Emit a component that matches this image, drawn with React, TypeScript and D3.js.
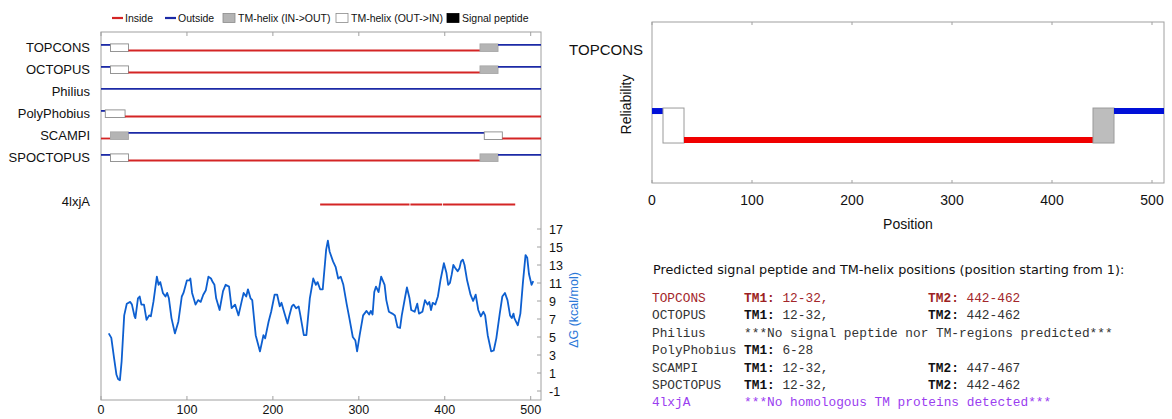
import React from "react";
import * as d3 from "d3";

const seqLength = 512;
const methodNames = ["TOPCONS", "OCTOPUS", "Philius", "PolyPhobius", "SCAMPI", "SPOCTOPUS"];

// segments: [start, end, kind]  i = inside, o = outside, M = TM in->out, W = TM out->in
const topconsSegs: [number, number, string][] = [[1, 11, "o"], [12, 32, "W"], [33, 441, "i"], [442, 462, "M"], [463, 512, "o"]];
const octopusSegs: [number, number, string][] = [[1, 11, "o"], [12, 32, "W"], [33, 441, "i"], [442, 462, "M"], [463, 512, "o"]];
const philiusSegs: [number, number, string][] = [[1, 512, "o"]];
const polyphobiusSegs: [number, number, string][] = [[1, 5, "o"], [6, 28, "W"], [29, 512, "i"]];
const scampiSegs: [number, number, string][] = [[1, 11, "i"], [12, 32, "M"], [33, 446, "o"], [447, 467, "W"], [468, 512, "i"]];
const spoctopusSegs: [number, number, string][] = [[1, 11, "o"], [12, 32, "W"], [33, 441, "i"], [442, 462, "M"], [463, 512, "o"]];
const homologSegs: [number, number, string][] = [[256, 359, "i"], [361, 397, "i"], [399, 482, "i"]];

const allSegs = [topconsSegs, octopusSegs, philiusSegs, polyphobiusSegs, scampiSegs, spoctopusSegs];

const xTicks = [0, 100, 200, 300, 400, 500];
const dgTicks = [17, 15, 13, 11, 9, 7, 5, 3, 1, -1];

const dgPos = [9, 12, 15, 18, 20, 22, 24, 27, 30, 34, 36, 39, 40, 43, 45, 47, 50, 53, 56, 58, 61, 65, 67, 69, 72, 75, 77, 79, 82, 86, 90, 94, 96, 100, 103, 104, 106, 110, 113, 116, 119, 122, 125, 128, 130, 132, 134, 138, 142, 145, 149, 152, 156, 160, 164, 166, 169, 171, 174, 176, 180, 185, 189, 191, 195, 198, 202, 205, 208, 210, 213, 217, 219, 222, 224, 227, 230, 232, 236, 239, 243, 247, 250, 252, 255, 258, 262, 264, 266, 270, 273, 276, 279, 282, 286, 289, 293, 296, 298, 301, 305, 309, 312, 314, 316, 318, 320, 323, 326, 330, 332, 335, 339, 342, 345, 348, 350, 354, 356, 359, 361, 365, 368, 370, 374, 377, 380, 382, 384, 386, 389, 392, 395, 399, 402, 404, 406, 408, 410, 412, 415, 417, 419, 421, 423, 426, 430, 433, 436, 439, 442, 445, 447, 450, 454, 457, 460, 464, 467, 470, 473, 476, 478, 480, 481, 485, 488, 491, 494, 496, 498, 501, 503];
const dgVal = [5.4, 4.9, 2.8, 0.8, 0.3, 0.2, 2.3, 7.4, 8.7, 8.9, 8.6, 7.3, 7.1, 9.3, 9.5, 8.6, 8.6, 6.9, 7.4, 7.3, 8.9, 11.7, 10.8, 11.1, 9.9, 9.5, 9.9, 9.3, 7.1, 5.4, 6.7, 9.5, 9.9, 11.3, 11.3, 11.5, 9.9, 8.6, 9.1, 8.9, 9.7, 10.2, 11.7, 11.5, 11.1, 10.8, 9.3, 8.0, 10.1, 10.8, 10.6, 8.2, 8.6, 7.4, 9.1, 9.9, 9.5, 10.3, 9.3, 9.1, 5.2, 3.4, 5.2, 4.85, 6.7, 7.8, 9.7, 9.7, 8.4, 8.8, 7.8, 6.5, 7.3, 8.4, 8.6, 8.2, 8.4, 7.4, 5.2, 5.2, 9.3, 11.5, 10.8, 11.1, 10.3, 10.3, 14.7, 15.7, 14.5, 13.4, 12.8, 11.5, 11.7, 10.8, 8.6, 7.1, 5.0, 4.6, 3.4, 5.2, 7.4, 7.9, 7.5, 7.9, 7.5, 10.0, 10.6, 10.0, 11.7, 10.8, 9.1, 7.8, 7.6, 7.4, 6.1, 6.0, 7.4, 9.5, 10.5, 9.3, 8.0, 7.8, 8.7, 7.6, 7.8, 9.1, 8.6, 8.9, 8.0, 8.8, 8.6, 9.5, 11.3, 13.2, 12.1, 10.8, 11.0, 11.9, 13.0, 12.7, 12.3, 12.6, 13.4, 13.6, 13.0, 11.3, 9.7, 9.0, 9.7, 8.0, 7.3, 7.8, 7.4, 5.2, 3.4, 3.5, 4.85, 7.6, 9.5, 9.9, 9.1, 7.4, 7.1, 7.6, 7.1, 6.3, 7.6, 11.1, 14.1, 13.8, 12.0, 10.8, 11.2];

const legendItems = [
  { label: "Inside", kind: "i" },
  { label: "Outside", kind: "o" },
  { label: "TM-helix (IN->OUT)", kind: "M" },
  { label: "TM-helix (OUT->IN)", kind: "W" },
  { label: "Signal peptide", kind: "S" },
];

const tableNames = ["TOPCONS", "OCTOPUS", "Philius", "PolyPhobius", "SCAMPI", "SPOCTOPUS", "4lxjA"];
const tableTM1 = ["12-32,", "12-32,", "", "6-28", "12-32,", "12-32,", ""];
const tableTM2 = ["442-462", "442-462", "", "", "447-467", "442-462", ""];
const tableNotes = ["", "", "***No signal peptide nor TM-regions predicted***", "", "", "", "***No homologous TM proteins detected***"];

const RED = "#d42525";
const BLUE = "#1c2aa6";
const FRAME = "#a0a0a0";
const SANS = "'Liberation Sans', Arial, sans-serif";
const MONO = "'Liberation Mono', 'Courier New', monospace";

function TrackRow({ segs, cy, x }: { segs: [number, number, string][]; cy: number; x: d3.ScaleLinear<number, number> }) {
  return (
    <g>
      {segs.map(([s, e, k], i) => {
        const x0 = x(s - 1);
        const x1 = x(e);
        if (k === "i" || k === "o") {
          const y = k === "i" ? cy + 2.8 : cy - 2.8;
          return <line key={i} x1={x0} x2={x1} y1={y} y2={y} stroke={k === "i" ? RED : BLUE} strokeWidth={1.8} />;
        }
        return (
          <rect key={i} x={x0} y={cy - 3.8} width={x1 - x0} height={7.6}
            fill={k === "M" ? "#b4b4b4" : "#fff"} stroke={k === "M" ? "#a8a8a8" : "#8a8a8a"} strokeWidth={0.9} />
        );
      })}
    </g>
  );
}

export default function App() {
  // left panel
  const L = { left: 101, right: 541, top: 32, bottom: 400 };
  const x = d3.scaleLinear().domain([0, seqLength]).range([L.left, L.right]);
  const yDG = d3.scaleLinear().domain([-1, 17]).range([391, 229]);
  const rowY = (i: number) => 47.7 + i * 22;

  const line = d3.line<number>().x((d, i) => x(dgPos[i])).y((d) => yDG(d));

  // right panel
  const R = { left: 652, right: 1164, top: 22, bottom: 183 };
  const xr = d3.scaleLinear().domain([0, seqLength]).range([R.left, R.right]);
  const yRel = d3.scaleLinear().domain([0, 1]).range([R.bottom, R.top]);
  const outLevel = 0.447;
  const inLevel = 0.267;
  const tmTop = yRel(outLevel) - 3;
  const tmBot = yRel(inLevel) + 3;

  const legendX = [112, 165, 223, 336, 447];

  const tableX = 652;
  const charW = 7.67;
  const tableY0 = 298;
  const tableDy = 17.4;

  return (
    <svg width={1172} height={419} style={{ position: "absolute", left: 0, top: 0, background: "#fff" }}>
      {/* legend */}
      <g fontFamily={SANS} fontSize={10.5} fill="#111">
        {legendItems.map((d, i) => {
          const lx = legendX[i];
          let mark;
          if (d.kind === "i" || d.kind === "o") {
            mark = <line x1={lx} x2={lx + 11} y1={18} y2={18} stroke={d.kind === "i" ? RED : BLUE} strokeWidth={2.2} />;
          } else {
            const fill = d.kind === "M" ? "#b4b4b4" : d.kind === "W" ? "#fff" : "#000";
            mark = <rect x={lx} y={13.5} width={12} height={9} fill={fill} stroke={d.kind === "S" ? "#000" : "#8a8a8a"} strokeWidth={0.8} />;
          }
          return (
            <g key={d.label}>
              {mark}
              <text x={lx + (d.kind === "i" || d.kind === "o" ? 13 : 15)} y={21.5}>{d.label}</text>
            </g>
          );
        })}
      </g>

      {/* left frame */}
      <rect x={L.left} y={L.top} width={L.right - L.left} height={L.bottom - L.top} fill="none" stroke={FRAME} strokeWidth={1} />
      {xTicks.map((t) => (
        <g key={t}>
          <line x1={x(t)} x2={x(t)} y1={L.top} y2={L.top + 4} stroke={FRAME} />
          <line x1={x(t)} x2={x(t)} y1={L.bottom} y2={L.bottom - 4} stroke={FRAME} />
          <text x={x(t)} y={414} textAnchor="middle" fontFamily={SANS} fontSize={12.5} fill="#111">{t}</text>
        </g>
      ))}

      {/* method tracks */}
      {allSegs.map((segs, i) => (
        <g key={methodNames[i]}>
          <text x={90} y={rowY(i) + 4.5} textAnchor="end" fontFamily={SANS} fontSize={13} fill="#111">{methodNames[i]}</text>
          <TrackRow segs={segs} cy={rowY(i)} x={x} />
        </g>
      ))}
      <text x={90} y={rowY(7) + 4.5} textAnchor="end" fontFamily={SANS} fontSize={13} fill="#111">4lxjA</text>
      <TrackRow segs={homologSegs} cy={rowY(7)} x={x} />

      {/* delta G axis */}
      {dgTicks.map((t) => (
        <g key={t}>
          <line x1={L.right} x2={L.right - 4} y1={yDG(t)} y2={yDG(t)} stroke={FRAME} />
          <text x={549} y={yDG(t) + 4.5} fontFamily={SANS} fontSize={12.5} fill="#111">{t}</text>
        </g>
      ))}
      <text transform={`translate(578,${(yDG(17) + yDG(-1)) / 2}) rotate(-90)`} textAnchor="middle" fontFamily={SANS} fontSize={12.5} fill="#2a78d8">ΔG (kcal/mol)</text>
      <path d={line(dgVal) || ""} fill="none" stroke="#0d5fd0" strokeWidth={1.8} strokeLinejoin="round" />

      {/* right panel */}
      <rect x={R.left} y={R.top} width={R.right - R.left} height={R.bottom - R.top} fill="none" stroke={FRAME} strokeWidth={1} />
      {xTicks.map((t) => (
        <g key={t}>
          <line x1={xr(t)} x2={xr(t)} y1={R.top} y2={R.top + 3} stroke={FRAME} />
          <line x1={xr(t)} x2={xr(t)} y1={R.bottom} y2={R.bottom - 3} stroke={FRAME} />
          <text x={xr(t)} y={205} textAnchor="middle" fontFamily={SANS} fontSize={14} fill="#111">{t}</text>
        </g>
      ))}
      <text x={(R.left + R.right) / 2} y={229} textAnchor="middle" fontFamily={SANS} fontSize={14} fill="#111">Position</text>
      <text x={643} y={55} textAnchor="end" fontFamily={SANS} fontSize={15} fill="#111">TOPCONS</text>
      <text transform={`translate(631,${(R.top + R.bottom) / 2 + 2}) rotate(-90)`} textAnchor="middle" fontFamily={SANS} fontSize={14} fill="#111">Reliability</text>
      {topconsSegs.map(([s, e, k], i) => {
        const x0 = xr(s - 1);
        const x1 = xr(e);
        if (k === "i" || k === "o") {
          const y = yRel(k === "i" ? inLevel : outLevel);
          return <line key={i} x1={x0} x2={x1} y1={y} y2={y} stroke={k === "i" ? "#f00000" : "#0010d8"} strokeWidth={6} />;
        }
        return <rect key={i} x={x0} y={tmTop} width={x1 - x0} height={tmBot - tmTop} fill={k === "M" ? "#bdbdbd" : "#fff"} stroke="#9a9a9a" strokeWidth={1} />;
      })}

      {/* prediction table */}
      <text x={653} y={273.5} fontFamily="'DejaVu Sans', Verdana, sans-serif" fontSize={12.8} fill="#111">
        Predicted signal peptide and TM-helix positions (position starting from 1):
      </text>
      <g fontFamily={MONO} fontSize={12.8}>
        {tableNames.map((n, i) => {
          const y = tableY0 + i * tableDy + 4;
          const nameColor = i === 0 ? "#a3262a" : i === 6 ? "#9a3df0" : "#333";
          const tmColor = i === 0 ? "#9c1f22" : "#111";
          const numColor = i === 0 ? "#a3262a" : "#333";
          return (
            <g key={n}>
              <text x={tableX} y={y} fill={nameColor}>{n}</text>
              {tableNotes[i] ? (
                <text x={tableX + 12 * charW} y={y} fill={nameColor}>{tableNotes[i]}</text>
              ) : null}
              {tableTM1[i] ? (
                <text x={tableX + 12 * charW} y={y} fill={numColor}>
                  <tspan fontWeight="bold" fill={tmColor}>TM1:</tspan> {tableTM1[i]}
                </text>
              ) : null}
              {tableTM2[i] ? (
                <text x={tableX + 36 * charW} y={y} fill={numColor}>
                  <tspan fontWeight="bold" fill={tmColor}>TM2:</tspan> {tableTM2[i]}
                </text>
              ) : null}
            </g>
          );
        })}
      </g>
    </svg>
  );
}
